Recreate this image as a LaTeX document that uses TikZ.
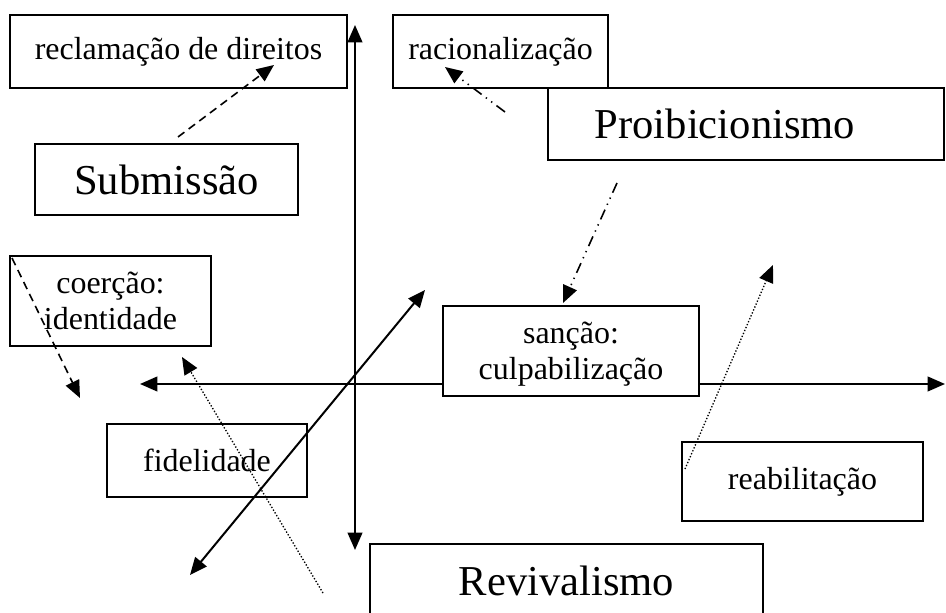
\documentclass[tikz,border=0pt]{standalone}
\usepackage{fontspec}
\setmainfont{Liberation Serif}
\usetikzlibrary{arrows.meta}

\begin{document}
\begin{tikzpicture}[x=0.0132cm, y=-0.0132cm,
	every node/.style={ inner sep=0pt, text=black, font=\fontsize{12}{13.5}\selectfont },
	box/.style={ draw, fill=white, line width=0.6pt, align=center },
	big/.style={ font=\fontsize{16}{19}\selectfont },
	tip/.style={ -{Triangle[length=6.5pt, width=5.5pt]} },
	tips/.style={ {Triangle[length=6.5pt, width=5.5pt]}-{Triangle[length=6.5pt, width=5.5pt]} }]
		\useasboundingbox (0,0) rectangle (946,613);

		% axes
		\coordinate (L) at (140,384);
		\coordinate (R) at (945,384);
		\coordinate (T) at (355,25);
		\coordinate (B) at (355,550);
		\coordinate (SW) at (190,575);
		\coordinate (NE) at (425,290);
		\draw[tips, line width=0.75pt] (L) -- (R);
		\draw[tips, line width=0.75pt] (T) -- (B);

		\node[box, minimum width=4.45cm, minimum height=0.96cm] (recl) at (178.5,51.5) {reclamação de direitos};
		\node[box, big, minimum width=3.47cm, minimum height=0.94cm] (subm) at (166.5,179.5) {Submissão};
		\node[box, minimum width=2.84cm, minimum height=0.96cm] (racio) at (500.5,51.5) {racionalização};
		\node[box, minimum width=5.23cm, minimum height=0.95cm] (proib) at (746,124) {};
		\node[big] (proibtxt) at (725,124) {Proibicionismo};
		\node[box, minimum width=2.65cm, minimum height=1.19cm] (coer) at (110.5,301) {coerção:\\identidade};
		\node[box, text depth=0pt, minimum width=3.38cm, minimum height=1.19cm] (sanc) at (571,351) {sanção:\\culpabilização};
		\node[box, minimum width=2.64cm, minimum height=0.96cm] (fidel) at (207,460.5) {fidelidade};
		\node[box, minimum width=3.18cm, minimum height=1.04cm] (reab) at (802.5,481.5) {reabilitação};
		\node[box, big, minimum width=5.19cm, minimum height=0.97cm] (reviv) at (566.5,580.5) {Revivalismo};

		\draw[tips, line width=0.75pt] (SW) -- (NE);

		\coordinate (a0) at (178,137);
		\coordinate (a1) at (274,65);
		\coordinate (b0) at (505,112);
		\coordinate (b1) at (445,67);
		\coordinate (c0) at (617,183);
		\coordinate (c1) at (563,303);
		\coordinate (d0) at (685,469);
		\coordinate (d1) at (773,265);
		\coordinate (e0) at (12,258);
		\coordinate (e1) at (80,398);
		\coordinate (f0) at (323,593);
		\coordinate (f1) at (182,357);
		\draw[tip, line width=0.6pt, dash pattern=on 3pt off 2pt] (a0) -- (a1);
		\draw[tip, line width=0.6pt, dash pattern=on 4pt off 2pt on 0.5pt off 2pt on 0.5pt off 2pt] (b0) -- (b1);
		\draw[tip, line width=0.6pt, dash pattern=on 4pt off 2pt on 0.5pt off 2pt on 0.5pt off 2pt] (c0) -- (c1);
		\draw[tip, line width=0.5pt, dash pattern=on 0.5pt off 0.7pt] (d0) -- (d1);
		\draw[tip, line width=0.6pt, dash pattern=on 3pt off 2pt] (e0) -- (e1);
		\draw[tip, line width=0.5pt, dash pattern=on 0.5pt off 0.7pt] (f0) -- (f1);
	\end{tikzpicture}
\end{document}
